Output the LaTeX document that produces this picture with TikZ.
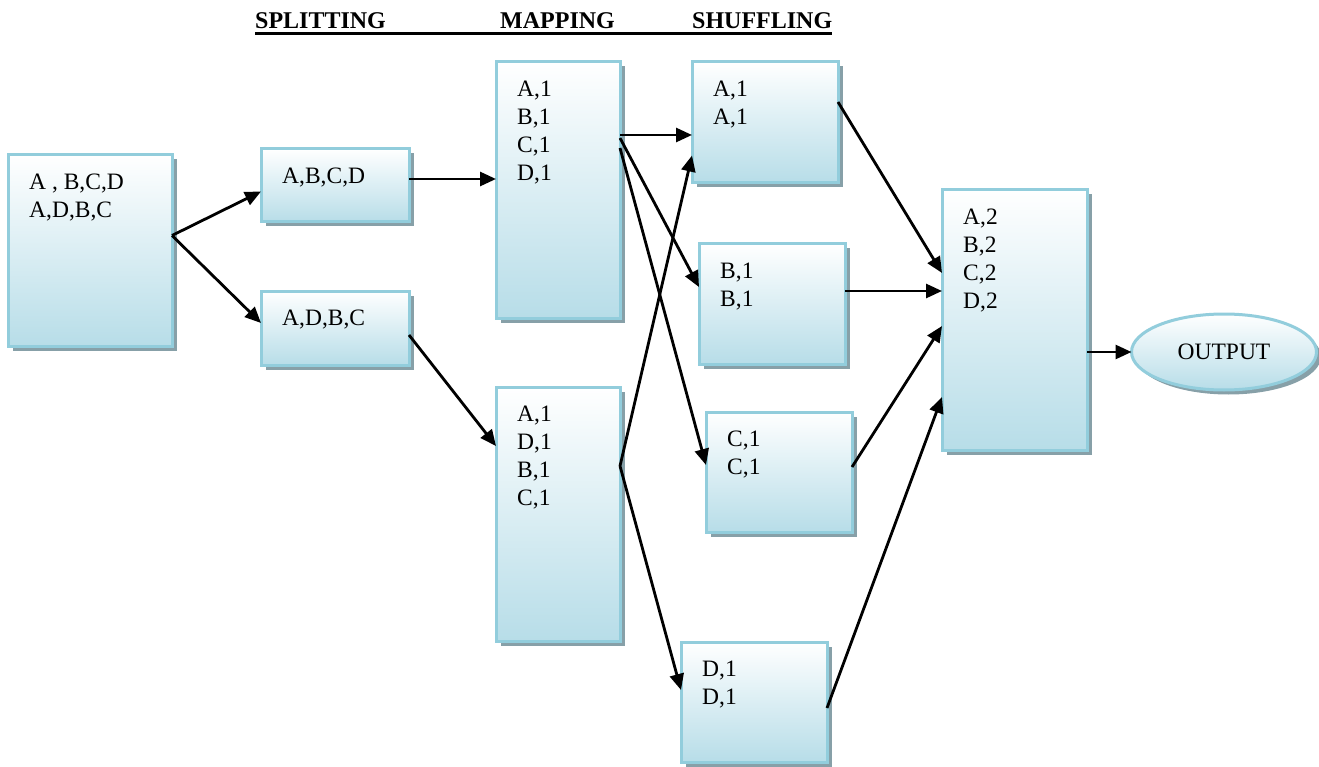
\documentclass[tikz,border=0pt]{standalone}
\usepackage{fontspec}
\setmainfont{Liberation Serif}
\usetikzlibrary{positioning,arrows.meta,shapes.geometric,shadows}
\definecolor{edge}{RGB}{146,205,220}
\definecolor{fillb}{RGB}{183,221,232}
\definecolor{shade}{RGB}{135,160,168}

\begin{document}
\begin{tikzpicture}[x=1pt, y=-1pt, font=\fontsize{23.5}{28}\selectfont,
  stagebox/.style={draw=edge, line width=3pt, top color=white, bottom color=fillb,
    anchor=north west, inner sep=0pt, outer sep=0pt,
    drop shadow={shadow xshift=4.5pt, shadow yshift=-4.5pt, fill=shade, opacity=1}},
  stagetxt/.style={anchor=north west, align=left, inner sep=0pt},
  flow/.style={-{Triangle[length=16pt,width=14pt]}, line width=2.8pt},
  hdr/.style={anchor=base west, inner sep=0pt, font=\fontsize{24}{28}\selectfont\bfseries}]
  \useasboundingbox (0,0) rectangle (1319,767);
  % column titles, one rule under all three
  \node[hdr] (split-h) at (255,29) {SPLITTING};
  \node[hdr] (map-h) at (500,29) {MAPPING};
  \node[hdr] (shuf-h) at (692,29) {SHUFFLING};
  \draw[line width=3pt] ([shift={(0,4.5)}]split-h.base west) -- ([shift={(0,4.5)}]shuf-h.base east);
  % box: name, x, y, width, height, lines
  \newcommand{\stage}[6]{%
    \node[stagebox, minimum width=#4pt, minimum height=#5pt] (#1) at (#2,#3) {};
    \node[stagetxt] (#1-t) at ([shift={(21,19)}]#1.north west) {#6};
  }
  \stage{in}{8}{155}{164}{191}{A , B,C,D\\A,D,B,C}
  \stage{sp1}{261}{149}{148}{73}{A,B,C,D}
  \stage{sp2}{261}{291}{148}{74}{A,D,B,C}
  \stage{mp1}{496}{62}{124}{256}{A,1\\B,1\\C,1\\D,1}
  \stage{mp2}{496}{387}{124}{254}{A,1\\D,1\\B,1\\C,1}
  \stage{shA}{692}{62}{146}{121}{A,1\\A,1}
  \stage{shB}{699}{244}{146}{120}{B,1\\B,1}
  \stage{shC}{706}{412}{146}{120}{C,1\\C,1}
  \stage{shD}{681}{642}{146}{120}{D,1\\D,1}
  \stage{red}{942}{190}{145}{260}{A,2\\B,2\\C,2\\D,2}
  \node[stagebox, ellipse, anchor=center, minimum width=185pt, minimum height=76pt] (out) at (1224,352) {OUTPUT};
  % flows, from east side to west side with offsets
  \foreach \s/\ds/\t/\dt in {in/-15/sp1/6, in/-15/sp2/-5, sp1/-6.5/mp1/-11, sp2/7/mp2/-68,
      mp1/-55/shA/12.5, mp1/-52/shB/-17, mp1/-42/shC/-7, mp2/-48/shA/33, mp2/-48/shD/-12,
      shA/-20.5/red/-47, shB/-13/red/-29, shC/-5/red/6, shD/6/red/77, red/32/out/0}
    \draw[flow] ([shift={(0,\ds)}]\s.east) -- ([shift={(0,\dt)}]\t.west);
\end{tikzpicture}
\end{document}
